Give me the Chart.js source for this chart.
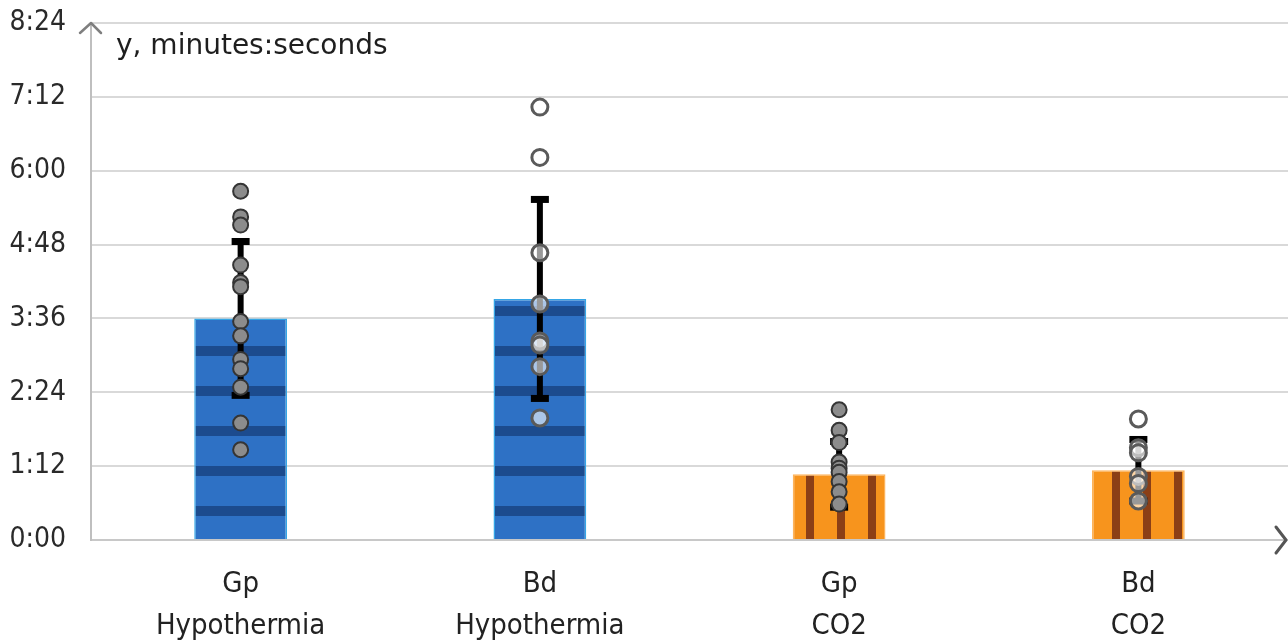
<!DOCTYPE html>
<html><head><meta charset="utf-8">
<script src="https://cdn.jsdelivr.net/npm/chart.js@4.4.0/dist/chart.umd.min.js"></script>
<style>html,body{margin:0;padding:0;background:#fff;overflow:hidden}#wrap{width:1288px;height:641px;overflow:hidden}</style>
</head><body><div id="wrap"><canvas id="c" width="1299" height="641"></canvas></div>
<script>
// ---- data (seconds) ----
const species = ['Gp', 'Bd', 'Gp', 'Bd'];
const methods = ['Hypothermia', 'Hypothermia', 'CO2', 'CO2'];
const meanSeconds = [216, 235, 64, 68];
const sdSeconds = [75, 97, 32, 30];
const gpHypothermia = [340, 315, 307, 268, 251, 247, 213, 199, 176, 167, 149, 114, 88];
const bdHypothermia = [422, 373, 280, 230, 194, 190, 169, 119];
const gpCO2 = [127, 107, 95, 76, 70, 66, 57, 47, 35];
const bdCO2 = [118, 90, 85, 62, 55, 38];
const yTickSeconds = [0, 72, 144, 216, 288, 360, 432, 504];
const axisTitle = 'y, minutes:seconds';

const categories = species.map((s, i) => s + ' ' + methods[i]);
const fmt = v => Math.floor(v / 60) + ':' + String(v % 60).padStart(2, '0');

// ---- fill patterns ----
function hPattern(base, stripe) {
  const c = document.createElement('canvas'); c.width = 4; c.height = 40;
  const g = c.getContext('2d');
  g.fillStyle = base; g.fillRect(0, 0, 4, 40);
  g.fillStyle = stripe; g.fillRect(0, 26, 4, 10);
  return g.createPattern(c, 'repeat');
}
function vPattern(base, stripe, off) {
  const c = document.createElement('canvas'); c.width = 31; c.height = 4;
  const g = c.getContext('2d');
  g.fillStyle = base; g.fillRect(0, 0, 31, 4);
  g.fillStyle = stripe; g.fillRect(off, 0, 8, 4); g.fillRect(off - 31, 0, 8, 4);
  return g.createPattern(c, 'repeat');
}
const blueP = hPattern('#2E71C5', '#1C4B8E');
const orangeGp = vPattern('#F7941D', '#8B3F16', 0);
const orangeBd = vPattern('#F7941D', '#8B3F16', 27);

const pts = (cat, arr) => arr.map(v => ({ x: cat, y: v }));

const errorBars = {
  id: 'errorBars',
  afterDatasetDraw(chart, args) {
    if (args.index !== 0) return;
    const ctx = chart.ctx, y = chart.scales.y, meta = chart.getDatasetMeta(0);
    ctx.save();
    ctx.fillStyle = '#000';
    meta.data.forEach((bar, i) => {
      const top = y.getPixelForValue(meanSeconds[i] + sdSeconds[i]);
      const bot = y.getPixelForValue(meanSeconds[i] - sdSeconds[i]);
      ctx.fillRect(bar.x - 3, top, 6, bot - top);
      ctx.fillRect(bar.x - 9, top - 3.5, 18, 7);
      ctx.fillRect(bar.x - 9, bot - 3.5, 18, 7);
    });
    ctx.restore();
  }
};

const decor = {
  id: 'decor',
  afterDraw(chart) {
    const ctx = chart.ctx, a = chart.chartArea;
    ctx.save();
    ctx.lineCap = 'round'; ctx.lineJoin = 'round';
    // y arrow
    ctx.strokeStyle = '#7f7f7f'; ctx.lineWidth = 2.5;
    ctx.beginPath(); ctx.moveTo(a.left - 11, a.top + 10); ctx.lineTo(a.left, a.top); ctx.lineTo(a.left + 10, a.top + 10); ctx.stroke();
    // x arrow
    ctx.strokeStyle = '#555'; ctx.lineWidth = 3;
    ctx.beginPath(); ctx.moveTo(a.right - 12, a.bottom - 13); ctx.lineTo(a.right - 2, a.bottom); ctx.lineTo(a.right - 12, a.bottom + 13); ctx.stroke();
    // axis title
    ctx.fillStyle = '#1e1e1e';
    ctx.font = '28px "DejaVu Sans"';
    ctx.textBaseline = 'middle'; ctx.textAlign = 'left';
    ctx.fillText(axisTitle, a.left + 25, a.top + 24);
    ctx.restore();
  }
};

new Chart(document.getElementById('c'), {
  data: {
    labels: categories,
    datasets: [
      { type: 'bar', data: meanSeconds, order: 3,
        backgroundColor: [blueP, blueP, orangeGp, orangeBd],
        borderColor: ['#35A6E6', '#35A6E6', '#FDB45C', '#FDB45C'], borderWidth: 1.5,
        barPercentage: 0.31, categoryPercentage: 1 },
      { type: 'line', showLine: false, order: 1,
        data: pts(categories[0], gpHypothermia).concat(pts(categories[2], gpCO2)),
        pointRadius: 7.5, pointBackgroundColor: '#8C8C8C', pointBorderColor: '#353535', pointBorderWidth: 2 },
      { type: 'line', showLine: false, order: 0,
        data: pts(categories[1], bdHypothermia).concat(pts(categories[3], bdCO2)),
        pointRadius: 8, pointBackgroundColor: 'rgba(255,255,255,0.6)', pointBorderColor: '#5A5A5A', pointBorderWidth: 3 }
    ]
  },
  options: {
    responsive: false, animation: false,
    layout: { padding: { top: 23, left: 0, right: 0, bottom: 0 } },
    plugins: { legend: { display: false }, tooltip: { enabled: false } },
    scales: {
      x: {
        type: 'category',
        afterFit: s => { s.height = 101; s.paddingLeft = 0; s.paddingRight = 0; },
        grid: { display: false, drawTicks: false },
        border: { display: true, color: '#C8C8C8', width: 2 },
        ticks: { callback: (v, i) => [species[i], methods[i]], autoSkip: false, maxRotation: 0,
          padding: 23, color: '#222', font: { family: '"DejaVu Sans Condensed"', size: 29, lineHeight: 1.45 } }
      },
      y: {
        min: 0, max: 504,
        afterFit: s => { s.width = 91; s.paddingTop = 0; s.paddingBottom = 0; },
        afterBuildTicks: s => { s.ticks = yTickSeconds.map(v => ({ value: v })); },
        grid: { color: '#D9D9D9', lineWidth: 2, drawTicks: false },
        border: { display: true, color: '#BFBFBF', width: 2 },
        ticks: { callback: v => fmt(v), padding: 25, color: '#2a2a2a',
          font: { family: '"DejaVu Sans Condensed"', size: 28 } }
      }
    }
  },
  plugins: [errorBars, decor]
});
</script></body></html>
